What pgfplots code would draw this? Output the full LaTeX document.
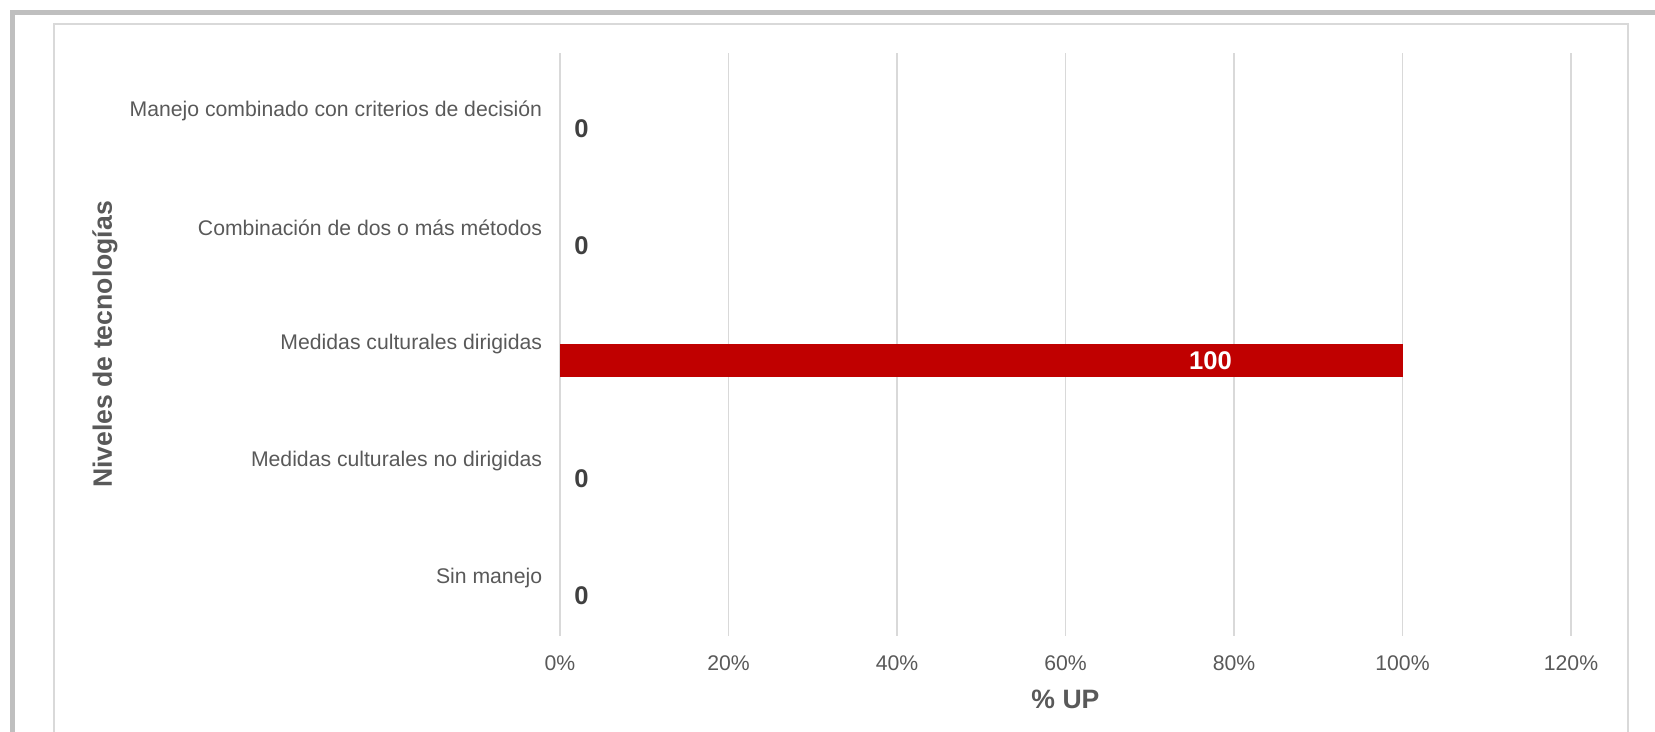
\documentclass[border=0pt]{standalone}
\usepackage{pgfplots}
\pgfplotsset{compat=1.18}
\usepackage{fontspec}
\setmainfont{Liberation Sans}
\definecolor{barred}{HTML}{C00000}
\definecolor{gridgray}{HTML}{D9D9D9}
\definecolor{ticktext}{HTML}{595959}
\definecolor{labeltext}{HTML}{404040}
\definecolor{framegray}{HTML}{BFBFBF}
\begin{document}
\begin{tikzpicture}
\path[use as bounding box] (-280pt,-48pt) rectangle (547.5pt,318pt);
\begin{scope}
\clip (-280pt,-48pt) rectangle (547.5pt,318pt);
\draw[framegray, line width=2.5pt] (-273.75pt,-60pt) -- (-273.75pt,311.75pt) -- (560pt,311.75pt);
\draw[gridgray, line width=0.8pt] (-253pt,-60pt) -- (-253pt,306pt) -- (534pt,306pt) -- (534pt,-60pt);
\end{scope}
\begin{axis}[
  scale only axis, width=505.5pt, height=291.5pt,
  xmin=0, xmax=120, ymin=-0.5, ymax=4.5,
  /pgf/number format/assume math mode=true,
  xtick={0,20,40,60,80,100,120},
  xticklabels={0\%,20\%,40\%,60\%,80\%,100\%,120\%},
  ytick={0,1,2,3,4},
  yticklabels={Sin manejo, Medidas culturales no dirigidas, Medidas culturales dirigidas, Combinación de dos o más métodos, Manejo combinado con criterios de decisión},
  axis line style={draw=none},
  major tick length=0pt, tick style={draw=none},
  xmajorgrids, ymajorgrids=false,
  grid style={gridgray, line width=0.75pt},
  xticklabel style={anchor=north, inner sep=0pt, yshift=-9.75pt, font=\fontsize{10.6}{12}\selectfont, text=ticktext},
  yticklabel style={anchor=east, inner sep=0pt, xshift=-8.75pt, font=\fontsize{10.6}{12}\selectfont, text=ticktext},
  xlabel={\% UP},
  ylabel={Niveles de tecnologías},
  xlabel style={at={(axis description cs:0.5,-0.10806)}, anchor=center, font=\fontsize{13.3}{16}\selectfont\bfseries, text=ticktext},
  ylabel style={at={(axis description cs:-0.45006,0.5)}, anchor=center, font=\fontsize{13.3}{16}\selectfont\bfseries, text=ticktext},
]
\addplot[xbar, bar width=16.5pt, bar shift=-8.25pt, fill=barred, draw=none] coordinates {(100,2)};
\addplot[only marks, mark=none, nodes near coords, point meta=explicit,
  nodes near coords style={anchor=west, inner sep=0pt, xshift=7pt, yshift=-8.75pt, font=\fontsize{12.8}{14}\selectfont\bfseries, text=labeltext}]
  coordinates {(0,0) [0] (0,1) [0] (0,3) [0] (0,4) [0]};
\addplot[only marks, mark=none, nodes near coords, point meta=explicit,
  nodes near coords style={anchor=center, inner sep=0pt, yshift=-8.25pt, font=\fontsize{12.8}{14}\selectfont\bfseries, text=white}]
  coordinates {(77.2,2) [100]};
\end{axis}
\end{tikzpicture}
\end{document}
